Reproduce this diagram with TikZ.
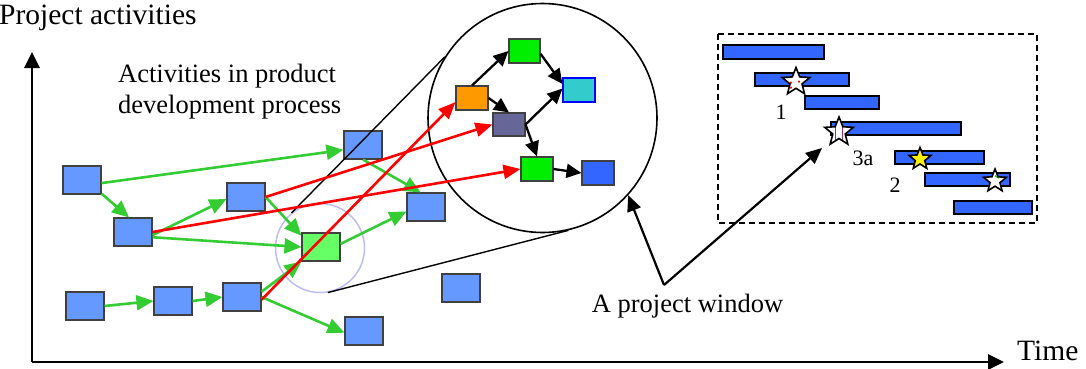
\documentclass[tikz,border=0pt]{standalone}
\usepackage{fontspec}
\setmainfont{Liberation Serif}
\usetikzlibrary{arrows.meta,shapes.geometric}
\definecolor{azulcaixa}{HTML}{6699FF}
\definecolor{verdecaixa}{HTML}{66FF66}
\definecolor{verdeseta}{HTML}{33CC33}
\definecolor{laranja}{HTML}{FF9900}
\definecolor{verdevivo}{HTML}{00EE00}
\definecolor{ciano}{HTML}{33CCCC}
\definecolor{roxo}{HTML}{666699}
\definecolor{azulforte}{HTML}{3366FF}
\definecolor{lavanda}{HTML}{BDBDF2}
\definecolor{marrom}{HTML}{993366}
\begin{document}
\begin{tikzpicture}[x=1pt,y=-1pt,
		caixa/.style={draw=black!75, line width=1.1pt, fill=azulcaixa, minimum width=38pt, minimum height=28pt, inner sep=0pt},
		mini/.style={draw=black!75, line width=1.1pt, minimum width=32pt, minimum height=24pt, inner sep=0pt},
		seta verde/.style={draw=verdeseta, line width=2.6pt, -{Triangle[length=17pt,width=15pt]}},
		seta vermelha/.style={draw=red, line width=2.6pt, -{Triangle[length=17pt,width=14pt]}},
		seta preta/.style={line width=2.3pt, -{Triangle[length=15pt,width=14pt]}},
		barra/.style={draw=black, line width=1.5pt, fill=azulforte},
		estrela/.style={star, star points=5, star point ratio=2.3, draw=black, line width=1.6pt, fill=white, inner sep=0pt},
		texto/.style={inner sep=0pt, font=\fontsize{26.5}{31}\selectfont},
		rotulo/.style={inner sep=0pt, font=\fontsize{22}{26}\selectfont}]
		% Margens da figura
		\useasboundingbox (0,0) rectangle (1086,368);
		
		% Definir coordenadas dos eixos
		\coordinate (O) at (32,362);
		\coordinate (Y) at (32,52);
		\coordinate (X) at (1004,362);
		
		% Desenhar os eixos
		\draw[line width=2.8pt, -{Triangle[length=16pt,width=15pt]}] (O) -- (Y);
		\draw[line width=2.8pt, -{Triangle[length=16pt,width=15pt]}] (O) -- (X);
		\node[texto, font=\fontsize{29.5}{34}\selectfont, anchor=base west] (tituloy) at (-1,24) {Project activities};
		\node[texto, font=\fontsize{29.5}{34}\selectfont, anchor=base west] (titulox) at (1017,360) {Time};
		
		% Texto das atividades
		\node[texto, align=left, anchor=north west] (atividades) at (118,64) {Activities in product\\development process};
		
		% Lente em volta da atividade
		\node[circle, draw=lavanda, line width=1.5pt, minimum size=89pt] (lente) at (320,248) {};
		
		% Desenhar as caixas do processo
		\node[caixa] (c1) at (82,180) {};
		\node[caixa] (c2) at (133,232) {};
		\node[caixa] (c3) at (246,197) {};
		\node[caixa] (c4) at (363,145) {};
		\node[caixa] (c5) at (426,207) {};
		\node[caixa, fill=verdecaixa] (cv) at (321,247) {};
		\node[caixa] (c7) at (85,306) {};
		\node[caixa] (c8) at (173,301) {};
		\node[caixa] (c9) at (242,297) {};
		\node[caixa] (c10) at (364,331) {};
		\node[caixa] (c11) at (461,288) {};
		
		% Setas verdes entre as atividades
		\draw[seta verde] (c1.-9) -- (c4.194);
		\draw[seta verde] (c1.-35) -- (c2.105);
		\draw[seta verde] (c2.-9) -- (c3.186);
		\draw[seta verde] (c2.-15) -- (cv.west);
		\draw[seta verde] (c3.east) -- (cv.150);
		\draw[seta verde] (cv.9) -- (c5.193);
		\draw[seta verde] (c4.south) -- (c5.110);
		\draw[seta verde] (c7.east) -- (c8.west);
		\draw[seta verde] (c8.east) -- (c9.west);
		\draw[seta verde] (c9.15) -- (cv.south west);
		\draw[seta verde] (c9.east) -- (c10.185);
		
		% Circulo ampliado
		\node[circle, draw, line width=1.6pt, minimum size=229pt] (lupa) at (542.5,118) {};
		\draw[line width=1.4pt] (lente.129) -- (lupa.148);
		\draw[line width=1.4pt] (lente.-80) -- (lupa.-77);
		
		% Caixas dentro do circulo
		\node[mini, fill=laranja] (laranja) at (472,98) {};
		\node[mini, fill=verdevivo, minimum width=31pt] (verde1) at (524.5,51) {};
		\node[mini, fill=ciano, draw=blue] (ciano) at (579,90) {};
		\node[mini, fill=roxo, minimum height=23pt] (roxo) at (509,124.5) {};
		\node[mini, fill=verdevivo] (verde2) at (537,169) {};
		\node[mini, fill=azulforte] (azul) at (598,173) {};
		
		% Setas pretas dentro do circulo
		\draw[seta preta] (laranja.north) -- (verde1.west);
		\draw[seta preta] (laranja.east) -- (roxo.north);
		\draw[seta preta] (verde1.-10) -- (ciano.160);
		\draw[seta preta] (roxo.east) -- (ciano.175);
		\draw[seta preta] (roxo.east) -- (verde2.north);
		\draw[seta preta] (verde2.east) -- (azul.west);
		
		% Setas vermelhas ate o circulo
		\draw[seta vermelha] (c2.east) -- (verde2.west);
		\draw[seta vermelha] (c3.east) -- (roxo.west);
		\draw[seta vermelha] (c9.-8) -- (laranja.194);
		
		% Janela do projeto
		\draw[dashed, dash pattern=on 6pt off 4pt, line width=1.5pt] (718,34) rectangle (1037,223);
		\draw[barra] (723,45) rectangle (824,59);
		\draw[barra] (755,73) rectangle (849,86);
		\draw[barra] (805,96) rectangle (879,109);
		\draw[barra] (831,122) rectangle (961,135);
		\draw[barra] (895,151) rectangle (984,164);
		\draw[barra] (925,173) rectangle (1010,186);
		\draw[barra] (954,201) rectangle (1032,214);
		
		% Estrelas nas barras
		\node[estrela, minimum size=29pt, path picture={
			\fill[red] ([xshift=-5pt,yshift=-2pt]path picture bounding box.center) circle (1.2pt);
			\fill[red] ([xshift=3pt,yshift=-1pt]path picture bounding box.center) circle (1.2pt);
			\fill[red] ([xshift=-5pt,yshift=-7pt]path picture bounding box.center) circle (1.2pt);}] (estrela1) at (796,82) {};
		\node[estrela, minimum size=30pt, path picture={
			\draw[marrom, line width=1.6pt] ([xshift=-3.5pt]path picture bounding box.south) -- ([xshift=-3.5pt,yshift=6pt]path picture bounding box.center);
			\draw[marrom, line width=1.6pt] ([xshift=3.5pt]path picture bounding box.south) -- ([xshift=3.5pt,yshift=6pt]path picture bounding box.center);}] (estrela3a) at (839,132) {};
		\node[estrela, minimum size=23pt, fill=yellow] (estrela2) at (920,159) {};
		\node[estrela, minimum size=24pt, path picture={
			\draw[green!85!black, line width=1.6pt] ([yshift=4pt]path picture bounding box.center) -- ([xshift=4pt,yshift=2pt]path picture bounding box.center);}] (estrela4) at (995,181) {};
		\node[rotulo] (n1) at (781,112) {1};
		\node[rotulo] (n3a) at (863,158) {3a};
		\node[rotulo] (n2) at (895,185) {2};
		
		% Legenda e setas da janela
		\node[texto, anchor=base] (janela) at (687.5,312) {A project window};
		\coordinate (vertice) at (664,285);
		\coordinate (alvo) at (822,148);
		\draw[line width=2.2pt, -{Triangle[length=16pt,width=14pt]}] (vertice) -- (lupa.-42);
		\draw[line width=2.2pt, -{Triangle[length=16pt,width=14pt]}] (vertice) -- (alvo);
		
	\end{tikzpicture}
\end{document}
